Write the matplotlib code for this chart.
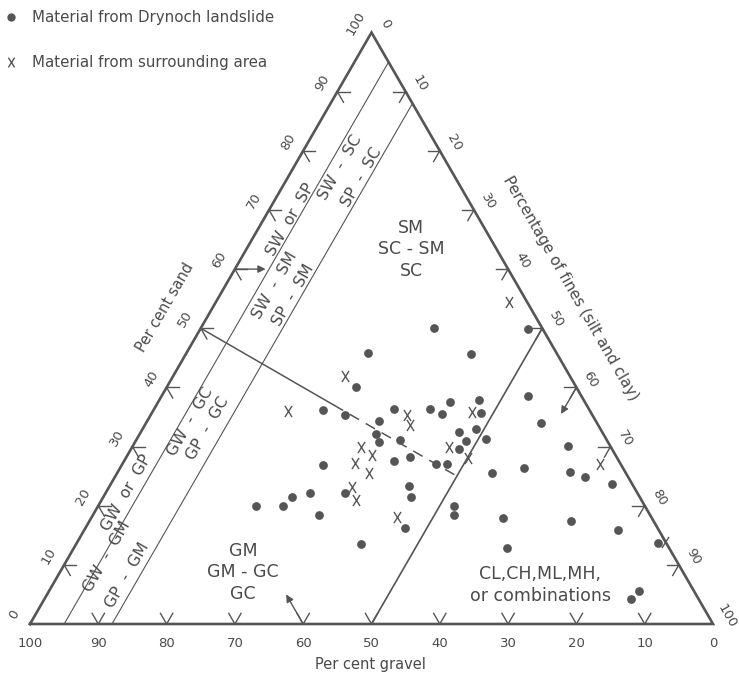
import matplotlib
matplotlib.use('Agg')
import matplotlib.pyplot as plt
from matplotlib.lines import Line2D
from matplotlib.path import Path
import numpy as np

# per cent sand / per cent fines (gravel = 100 - sand - fines)
slide_sand = [50.0, 49.9, 45.9, 45.6, 40.0, 36.1, 35.3, 36.3, 34.3, 36.3, 35.5, 37.5,
              32.2, 30.7, 31.1, 32.5, 31.0, 29.6, 28.2, 27.6, 27.0, 27.0, 26.8, 37.8,
              35.7, 32.9, 31.3, 38.5, 34.0, 30.1, 20.0, 20.0, 21.5, 22.1, 18.4, 22.1,
              23.3, 21.5, 20.0, 18.5, 16.3, 13.5, 25.6, 26.3, 25.7, 24.9, 23.7, 18.0,
              17.4, 15.9, 13.7, 12.9, 5.6, 4.3]
slide_fines = [34.2, 48.0, 26.5, 41.8, 27.8, 24.9, 28.5, 35.2, 34.0, 40.4, 42.6, 42.8,
               34.6, 35.8, 38.6, 46.5, 48.3, 48.0, 41.6, 39.5, 46.0, 47.6, 29.5, 46.8,
               48.2, 48.9, 51.1, 53.6, 57.8, 63.7, 23.1, 27.1, 27.6, 30.0, 33.1, 35.0,
               43.8, 45.0, 52.1, 52.9, 46.8, 41.7, 54.9, 59.2, 66.2, 68.8, 73.3, 60.2,
               70.5, 78.1, 85.1, 63.4, 86.4, 85.8]
area_sand = [54.5, 41.9, 36.0, 35.4, 33.6, 35.8, 30.0, 28.5, 30.0, 27.3, 28.1, 25.6,
             23.1, 21.0, 18.1, 27.0, 13.9]
area_fines = [42.9, 25.2, 19.8, 37.5, 38.8, 46.8, 33.5, 35.8, 46.3, 33.9, 50.1, 36.8,
              35.6, 37.2, 44.7, 70.0, 86.0]

tick_values = list(range(0, 101, 10))
fines_limits = [5, 12]      # thin boundary lines
fines_split = 50            # coarse / fine grained boundary

C = '#555555'
T = '#4a4a4a'


def tern(sand, fines):
    s = np.asarray(sand, dtype=float) / 100
    f = np.asarray(fines, dtype=float) / 100
    return f + s / 2, s * np.sqrt(3) / 2


fig = plt.figure(figsize=(7.39, 6.75), dpi=100)
ax = fig.add_axes([0, 0, 1, 1])
ax.set_xlim(-30 / 683, 709 / 683)
ax.set_ylim(-51 / 683, 624 / 683)
ax.axis('off')

# triangle
tx, ty = tern([0, 100, 0, 0], [0, 0, 100, 0])
ax.plot(tx, ty, color=C, lw=1.9, solid_joinstyle='miter')

# 5 % and 12 % fines lines
for f in fines_limits:
    lx, ly = tern([0, 100 - f], [f, f])
    ax.plot(lx, ly, color=C, lw=0.8)

# 50 % fines line
lx, ly = tern([0, 100 - fines_split], [fines_split, fines_split])
ax.plot(lx, ly, color=C, lw=1.2)

# sand = gravel line, solid then dashed
lx, ly = tern([50, 37], [0, 26])
ax.plot(lx, ly, color=C, lw=1.1)
lx, ly = tern([37, 25], [26, 50])
ax.plot(lx, ly, color=C, lw=1.1, ls=(0, (7, 5)))

# arrowhead ticks on each side
L = 0.018
sides = [
    (lambda v: tern(v, 0), (0, -60)),            # sand, left side
    (lambda v: tern(100 - v, v), (180, 240)),    # fines, right side
    (lambda v: tern(0, 100 - v), (60, 120)),     # gravel, bottom
]
for pos, angs in sides:
    for v in tick_values[1:-1]:
        px, py = pos(v)
        for a in np.radians(angs):
            ax.plot([px, px + L * np.cos(a)], [py, py + L * np.sin(a)], color=C, lw=1.0)

# reading arrows at 60
arrow = dict(arrowstyle='-|>', color=C, lw=1.0, mutation_scale=11, shrinkA=0, shrinkB=0)
px, py = tern(60, 0)
ax.annotate('', xy=(px + 0.045, py), xytext=(px, py), arrowprops=arrow)
px, py = tern(40, 60)
ax.annotate('', xy=(px - 0.5 * 0.045, py - 0.866 * 0.045), xytext=(px, py), arrowprops=arrow)
px, py = tern(0, 40)
ax.annotate('', xy=(px - 0.5 * 0.05, py + 0.866 * 0.05), xytext=(px, py), arrowprops=arrow)

# tick labels
for v in tick_values:
    px, py = tern(v, 0)
    ax.text(px - 0.866 * 0.026, py + 0.5 * 0.026, str(v), rotation=60, ha='center', va='center',
            fontsize=9.5, color=T)
    px, py = tern(100 - v, v)
    ax.text(px + 0.866 * 0.024, py + 0.5 * 0.024, str(v), rotation=-60, ha='center', va='center',
            fontsize=9.5, color=T)
    px, py = tern(0, 100 - v)
    ax.text(px, py - 0.028, str(v), ha='center', va='center', fontsize=9.5, color=T)

# axis titles
px, py = tern(50, 0)
ax.text(px - 0.866 * 0.06, py + 0.5 * 0.06, 'Per cent sand', rotation=60, ha='center', va='center',
        fontsize=10.5, color=T)
px, py = tern(53, 47)
ax.text(px + 0.866 * 0.066, py + 0.5 * 0.066, 'Percentage of fines (silt and clay)', rotation=-60,
        ha='center', va='center', fontsize=11, color=T)
ax.text(0.498, -0.060, 'Per cent gravel', ha='center', va='center', fontsize=10.5, color=T)

# class labels
lab = dict(ha='center', va='center', color=T, fontsize=12.5)
ax.text(0.558, 0.549, 'SM\nSC - SM\nSC', linespacing=1.25, **lab)
ax.text(0.312, 0.076, 'GM\nGM - GC\nGC', linespacing=1.25, **lab)
ax.text(0.747, 0.057, 'CL,CH,ML,MH,\nor combinations', linespacing=1.25, **lab)

strip = dict(lab, rotation=60, fontsize=11.3)
ax.text(0.3807, 0.5915, 'SW  or  SP', **strip)
ax.text(0.4539, 0.6691, 'SW  -  SC', **strip)
ax.text(0.4861, 0.6545, 'SP  -  SC', **strip)
ax.text(0.3587, 0.4963, 'SW  -  SM', **strip)
ax.text(0.3851, 0.4817, 'SP  -  SM', **strip)
ax.text(0.2343, 0.2958, 'GW  -  GC', **strip)
ax.text(0.2606, 0.2870, 'GP  -  GC', **strip)
ax.text(0.1406, 0.1918, 'GW  or  GP', **strip)
ax.text(0.1127, 0.0981, 'GW  -  GM', **strip)
ax.text(0.1420, 0.0717, 'GP  -  GM', **strip)

# data
xmark = Path([(-0.32, -0.5), (0.32, 0.5), (-0.32, 0.5), (0.32, -0.5)],
             [Path.MOVETO, Path.LINETO, Path.MOVETO, Path.LINETO])
dx, dy = tern(slide_sand, slide_fines)
ax.plot(dx, dy, ls='none', marker='o', ms=6.3, color=C, mec='none')
cx, cy = tern(area_sand, area_fines)
ax.plot(cx, cy, ls='none', marker=xmark, ms=8, mew=1.0, color=C)

handles = [Line2D([], [], ls='none', marker='o', ms=6, color=C, mec='none'),
           Line2D([], [], ls='none', marker=xmark, ms=7, mew=1.0, color=C)]
fig.legend(handles, ['Material from Drynoch landslide', 'Material from surrounding area'],
           loc='upper left', bbox_to_anchor=(5 / 739, 1 - 10 / 675), frameon=False,
           fontsize=10.8, labelcolor=T, labelspacing=2.0, handlelength=0.8,
           handletextpad=1.0, borderaxespad=0, borderpad=0)

fig.savefig('out.png', dpi=100)
